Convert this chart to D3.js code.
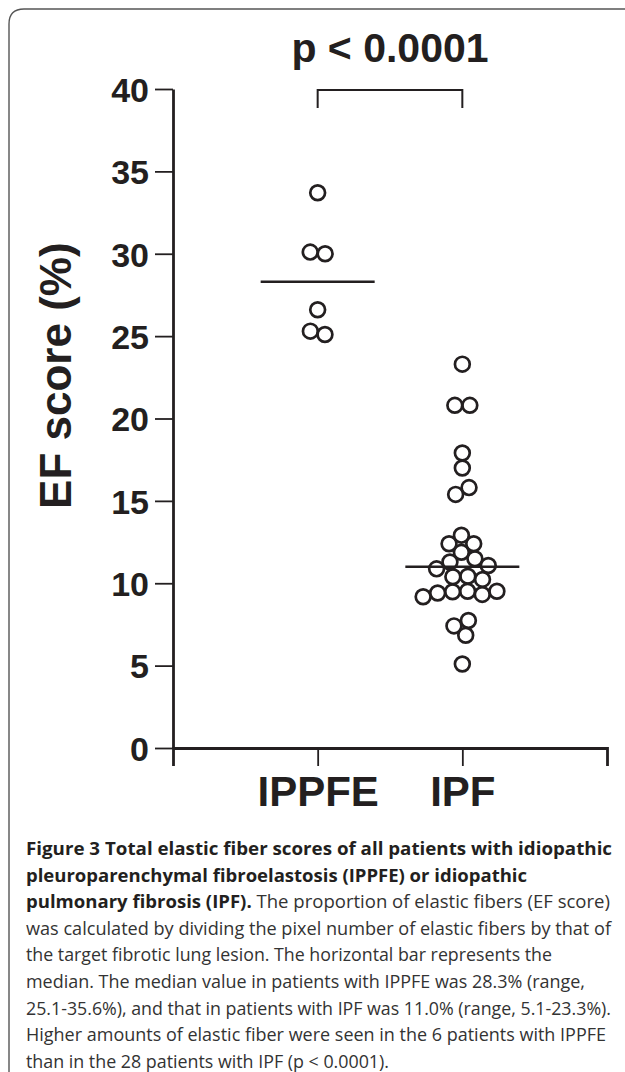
<!DOCTYPE html>
<html lang="en">
<head>
<meta charset="utf-8">
<title>EF score</title>
<script src="https://cdn.jsdelivr.net/npm/d3@7"></script>
<style>
  body { margin: 0; background: #fff; }
  svg { display: block; }
  .axis path, .axis line { stroke: #231f20; }
  .axis text { fill: #231f20; font-family: "Liberation Sans", Arial, sans-serif; font-weight: bold; }
</style>
</head>
<body>
<svg id="chart" width="625" height="1072"></svg>
<script>
// ---- data ----
const categories = ["IPPFE", "IPF"];
const ippfeScores = [33.7, 30.1, 30.0, 26.6, 25.3, 25.1];
const ipfScores = [23.3, 20.8, 20.8, 17.9, 17.0, 15.8, 15.4, 12.9, 12.4, 12.4,
                   11.8, 11.5, 11.3, 11.1, 10.9, 10.4, 10.4, 10.1, 9.5, 9.5,
                   9.5, 9.5, 9.4, 9.2, 7.7, 7.4, 6.9, 5.1];
const yTicks = [0, 5, 10, 15, 20, 25, 30, 35, 40];
const yTitle = "EF score (%)";
const pLabel = "p < 0.0001";

// caption, one entry per printed line: [bold part, regular part]
const captionLines = [
  ["Figure 3 Total elastic fiber scores of all patients with idiopathic", ""],
  ["pleuroparenchymal fibroelastosis (IPPFE) or idiopathic", ""],
  ["pulmonary fibrosis (IPF).", " The proportion of elastic fibers (EF score)"],
  ["", "was calculated by dividing the pixel number of elastic fibers by that of"],
  ["", "the target fibrotic lung lesion. The horizontal bar represents the"],
  ["", "median. The median value in patients with IPPFE was 28.3% (range,"],
  ["", "25.1-35.6%), and that in patients with IPF was 11.0% (range, 5.1-23.3%)."],
  ["", "Higher amounts of elastic fiber were seen in the 6 patients with IPPFE"],
  ["", "than in the 28 patients with IPF (p < 0.0001)."]
];
// right edge of each printed caption line
const captionEnds = [612, 527, 610, 611, 552, 585, 611, 606, 389];

const ink = "#231f20";
const svg = d3.select("#chart");

// frame of the figure box
svg.append("path")
  .attr("d", "M9,1072 V24 Q9,9 24,9 H625")
  .attr("fill", "none")
  .attr("stroke", "#555")
  .attr("stroke-width", 1.4);

// scales
const y = d3.scaleLinear().domain([0, 40]).range([748, 89]);
const x = d3.scalePoint().domain(categories).range([173, 607]).padding(1);

// y axis
const yAxis = svg.append("g")
  .attr("class", "axis")
  .attr("transform", "translate(173,0)")
  .call(d3.axisLeft(y).tickValues(yTicks).tickSize(18).tickSizeOuter(0).tickPadding(6));
yAxis.select(".domain").attr("stroke-width", 2.8);
yAxis.selectAll(".tick line").attr("stroke-width", 1.8);
yAxis.selectAll(".tick text").attr("font-size", 34).attr("dy", "0.36em");

// x axis
const xAxis = svg.append("g")
  .attr("class", "axis")
  .attr("transform", "translate(0,748)")
  .call(d3.axisBottom(x).tickSize(18).tickSizeOuter(18).tickPadding(10));
xAxis.select(".domain").attr("stroke-width", 2.8);
xAxis.selectAll(".tick line").attr("stroke-width", 1.8);
xAxis.selectAll(".tick text").attr("font-size", 42).attr("dy", "0.71em");

// y title
svg.append("text")
  .attr("transform", `translate(71,${y(22.6)}) rotate(-90)`)
  .attr("text-anchor", "middle")
  .attr("font-family", "Liberation Sans, Arial, sans-serif")
  .attr("font-weight", "bold")
  .attr("font-size", 44)
  .attr("fill", ink)
  .text(yTitle);

// beeswarm placement of the points in a column
function swarm(vals, cx) {
  const nodes = vals.map(v => ({ v: v, x: cx, y: y(v) }));
  const sim = d3.forceSimulation(nodes)
    .force("x", d3.forceX(cx).strength(0.03))
    .force("y", d3.forceY(d => y(d.v)).strength(1))
    .force("collide", d3.forceCollide(7.5))
    .stop();
  for (let i = 0; i < 300; i++) sim.tick();
  return nodes;
}

const groups = [
  { name: categories[0], vals: ippfeScores },
  { name: categories[1], vals: ipfScores }
];

groups.forEach(g => {
  const cx = x(g.name);
  const med = d3.median(g.vals);
  svg.append("line")
    .attr("x1", cx - 57).attr("x2", cx + 57)
    .attr("y1", y(med)).attr("y2", y(med))
    .attr("stroke", ink)
    .attr("stroke-width", 2.6);
  svg.append("g").selectAll("circle")
    .data(swarm(g.vals, cx))
    .join("circle")
    .attr("cx", d => d.x)
    .attr("cy", d => d.y)
    .attr("r", 7.4)
    .attr("fill", "none")
    .attr("stroke", ink)
    .attr("stroke-width", 2.7);
});

// significance bracket and p value
const bracketTop = 90;
svg.append("path")
  .attr("d", `M${x(categories[0])},${bracketTop + 18} V${bracketTop} H${x(categories[1])} V${bracketTop + 18}`)
  .attr("fill", "none")
  .attr("stroke", ink)
  .attr("stroke-width", 2);
svg.append("text")
  .attr("x", (x(categories[0]) + x(categories[1])) / 2)
  .attr("y", 62)
  .attr("text-anchor", "middle")
  .attr("font-family", "Liberation Sans, Arial, sans-serif")
  .attr("font-weight", "bold")
  .attr("font-size", 41)
  .attr("fill", ink)
  .text(pLabel);

// caption
const cap = svg.append("g")
  .attr("font-family", "Open Sans, sans-serif")
  .attr("font-size", 18)
  .attr("fill", ink);
captionLines.forEach((ln, i) => {
  const t = cap.append("text")
    .attr("x", 26)
    .attr("y", 855 + i * 26.6)
    .attr("textLength", captionEnds[i] - 26)
    .attr("lengthAdjust", "spacingAndGlyphs");
  if (ln[0]) t.append("tspan").attr("font-weight", "bold").text(ln[0]);
  if (ln[1]) t.append("tspan").attr("fill", "#333").text(ln[1]);
});
</script>
</body>
</html>
